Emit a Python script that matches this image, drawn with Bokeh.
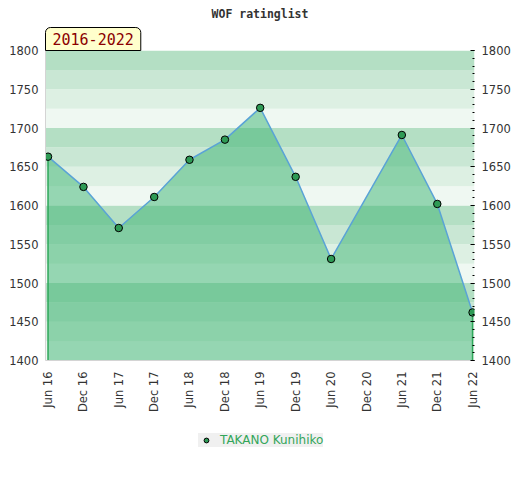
import math
import pandas as pd
from bokeh.plotting import figure
from bokeh.layouts import column
from bokeh.models import (Range1d, FixedTicker, DatetimeTickFormatter, LinearAxis,
                          BoxAnnotation, Title, Legend, LegendItem)
from bokeh.embed import file_html
from bokeh.resources import INLINE

# ---------------- data ----------------
title_text = "WOF ratinglist"
period_label = "2016-2022"
player = "TAKANO Kunihiko"

rating_dates = ["2016-06-01", "2016-12-01", "2017-06-01", "2017-12-01", "2018-06-01",
                "2018-12-01", "2019-06-01", "2019-12-01", "2020-06-01", "2021-06-01",
                "2021-12-01", "2022-06-01"]
ratings = [1663, 1624, 1571, 1611, 1659, 1685, 1726, 1637, 1531, 1691, 1602, 1462]

tick_dates = ["2016-06-01", "2016-12-01", "2017-06-01", "2017-12-01", "2018-06-01",
              "2018-12-01", "2019-06-01", "2019-12-01", "2020-06-01", "2020-12-01",
              "2021-06-01", "2021-12-01", "2022-06-01"]
y_ticks = [1400, 1450, 1500, 1550, 1600, 1650, 1700, 1750, 1800]
y_minor_ticks = list(range(1400, 1801, 10))
band_edges = list(range(1400, 1801, 25))
band_colors = ["#eff8f2", "#ddf0e3", "#c9e7d4", "#b4dfc4"]  # bottom->top inside each 100

# ---------------- derived ----------------
dates = pd.to_datetime(rating_dates)
tick_ms = [pd.Timestamp(d).value / 1e6 for d in tick_dates]
y_min, y_max = y_ticks[0], y_ticks[-1]

POINT_STYLE = dict(size=7.5, fill_color="#2e9a55", line_color="black", line_width=1)

p = figure(frame_width=429, frame_height=310, width=None, height=None, x_axis_type="datetime",
           x_range=Range1d(dates[0] - pd.Timedelta(days=13), dates[-1] + pd.Timedelta(days=10)),
           y_range=Range1d(y_min, y_max),
           output_backend="svg", toolbar_location=None,
           min_border_left=45, min_border_right=40, min_border_top=50, min_border_bottom=60,
           title=None)
p.outline_line_color = None
p.background_fill_color = "white"
p.xgrid.grid_line_color = None
p.ygrid.grid_line_color = None

# period label (directly above the frame) and main title
period_title = Title(text=period_label, align="left", text_font="DejaVu Sans Mono",
                     text_font_size="15px", text_font_style="normal", text_color="#8b0000",
                     background_fill_color="#ffffcc", border_line_color="black",
                     padding=dict(left=7, right=7, top=5, bottom=6),
                     border_radius=dict(top_left=5, top_right=5, bottom_right=0, bottom_left=0),
                     standoff=0, offset=0)
main_title = Title(text=title_text, align="center", text_font="DejaVu Sans Mono",
                   text_font_style="bold", text_font_size="11.5px", text_color="#333333",
                   standoff=9)
p.add_layout(period_title, "above")
p.add_layout(main_title, "above")

# background bands
for i in range(len(band_edges) - 1):
    p.add_layout(BoxAnnotation(bottom=band_edges[i], top=band_edges[i + 1],
                               fill_color=band_colors[i % 4], fill_alpha=1.0,
                               line_color=None, level="underlay"))

# area
p.varea(x=dates, y1=[y_min] * len(ratings), y2=ratings, fill_color="#3cb371", fill_alpha=0.5)
p.segment(x0=[dates[0], dates[-1]], y0=[y_min, y_min], x1=[dates[0], dates[-1]],
          y1=[ratings[0], ratings[-1]], line_color="#2ea85a", line_width=1.5)
p.line(x=dates, y=ratings, line_color="#5aa3d6", line_width=1.5)
pts = p.scatter(x=dates, y=ratings, **POINT_STYLE)

# left axis
ya = p.yaxis[0]
ya.ticker = FixedTicker(ticks=y_ticks)
ya.axis_line_color = "#d4d4d4"
ya.major_tick_line_color = None
ya.minor_tick_line_color = None
ya.major_tick_out = 0
ya.major_tick_in = 0
ya.minor_tick_out = 0
ya.major_label_standoff = 7
ya.major_label_text_font = "DejaVu Sans"
ya.major_label_text_font_size = "11.5px"
ya.major_label_text_color = "#333333"

# right axis
ra = LinearAxis(ticker=FixedTicker(ticks=y_ticks, minor_ticks=y_minor_ticks))
ra.axis_line_color = None
ra.major_tick_in = 4
ra.major_tick_out = 0
ra.minor_tick_in = 2
ra.minor_tick_out = 0
ra.major_tick_line_color = "black"
ra.minor_tick_line_color = "black"
ra.major_label_standoff = 7
ra.major_label_text_font = "DejaVu Sans"
ra.major_label_text_font_size = "11.5px"
ra.major_label_text_color = "#333333"
p.add_layout(ra, "right")

# bottom axis
xa = p.xaxis[0]
xa.ticker = FixedTicker(ticks=tick_ms)
fmt = "%b %y"
xa.formatter = DatetimeTickFormatter(milliseconds=fmt, seconds=fmt, minsec=fmt, minutes=fmt,
                                     hourmin=fmt, hours=fmt, days=fmt, months=fmt, years=fmt)
xa.major_label_orientation = math.pi / 2
xa.axis_line_color = "#d4d4d4"
xa.major_tick_line_color = None
xa.minor_tick_line_color = None
xa.major_tick_out = 0
xa.major_tick_in = 0
xa.minor_tick_out = 0
xa.major_label_standoff = 11
xa.major_label_text_font = "DejaVu Sans"
xa.major_label_text_font_size = "11.5px"
xa.major_label_text_color = "#333333"

# legend strip (separate small figure below the chart; same series, out of its view)
leg_fig = figure(width=514, height=40, x_range=Range1d(0, 1), y_range=Range1d(0, 1),
                 output_backend="svg", toolbar_location=None, min_border=0)
leg_fig.axis.visible = False
leg_fig.xgrid.grid_line_color = None
leg_fig.ygrid.grid_line_color = None
leg_fig.outline_line_color = None
leg_pts = leg_fig.scatter(x=dates, y=ratings, **POINT_STYLE)
legend = Legend(items=[LegendItem(label=player, renderers=[leg_pts])], location=(153, 13),
                orientation="horizontal", background_fill_color="#f0f0f0",
                background_fill_alpha=1.0, border_line_color=None,
                label_text_font="DejaVu Sans", label_text_font_size="12px",
                label_text_color="#33a65a", glyph_width=16, glyph_height=12,
                label_height=12, label_standoff=6, padding=6, margin=0)
leg_fig.add_layout(legend)

layout = column(p, leg_fig, spacing=0)
open("out.html", "w").write(file_html(layout, INLINE))
